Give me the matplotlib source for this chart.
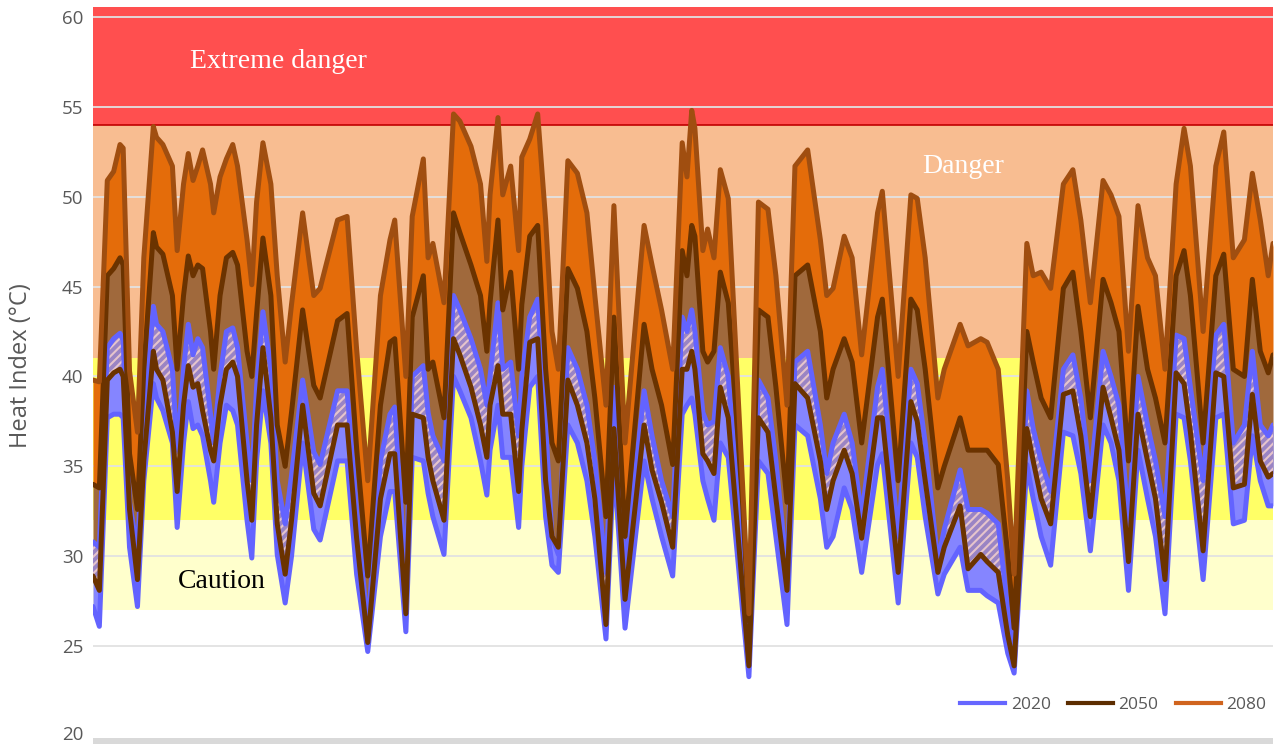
import numpy as np
import matplotlib
matplotlib.use("Agg")
import matplotlib.pyplot as plt
import matplotlib.transforms as mtransforms
from matplotlib.lines import Line2D
from matplotlib.patches import Rectangle

# hour index over the month
hours = [0, 4, 9, 13, 17, 19, 23, 28, 32, 38, 40, 44, 50, 53, 57, 60, 63, 66, 69, 74,
         76, 80, 84, 88, 91, 97, 100, 103, 107, 112, 116, 121, 125, 132, 139, 143, 154, 160, 166, 173,
         181, 187, 190, 197, 201, 208, 211, 214, 221, 227, 231, 238, 244, 248, 250, 255, 258, 263, 268, 270,
         275, 280, 285, 289, 293, 299, 305, 311, 316, 323, 328, 335, 347, 352, 358, 365, 371, 374, 377, 379,
         384, 387, 391, 395, 400, 409, 413, 419, 425, 430, 437, 442, 450, 458, 462, 466, 473, 478, 484, 494,
         497, 507, 515, 519, 524, 532, 536, 546, 551, 559, 563, 570, 576, 580, 588, 592, 597, 603, 611, 617,
         622, 628, 636, 641, 646, 652, 658, 664, 669, 675, 682, 687, 691, 699, 707, 712, 718, 725, 730, 735,
         740, 743]

# upper bound 2080
hi_2080 = [39.8, 39.7, 50.9, 51.4, 52.9, 52.7, 40.3, 36.9, 46.6, 53.9, 53.3, 52.9, 51.7, 47.0, 50.7, 52.4, 50.9, 51.7, 52.6, 50.7,
           49.1, 51.1, 52.1, 52.9, 51.7, 47.6, 45.1, 49.7, 53.0, 50.7, 45.6, 40.8, 44.0, 49.1, 44.5, 44.9, 48.7, 48.9, 41.5, 34.2,
           44.5, 47.6, 48.7, 40.0, 48.9, 52.1, 46.6, 47.4, 44.1, 54.6, 54.2, 52.8, 50.7, 46.4, 50.1, 54.4, 50.1, 51.7, 47.0, 52.2,
           53.2, 54.6, 48.7, 42.5, 40.4, 52.0, 51.3, 49.1, 44.5, 38.4, 49.5, 36.3, 48.4, 46.2, 43.7, 40.4, 53.0, 51.1, 54.8, 53.8,
           47.0, 48.2, 46.6, 51.5, 49.9, 34.0, 26.8, 49.7, 49.3, 45.6, 38.4, 51.7, 52.6, 47.6, 44.5, 44.9, 47.8, 46.6, 41.2, 49.1,
           50.3, 40.0, 50.1, 49.9, 46.6, 38.8, 40.4, 42.9, 41.7, 42.1, 41.9, 40.4, 34.2, 29.0, 47.4, 45.6, 45.8, 44.9, 50.7, 51.5,
           48.7, 44.1, 50.9, 50.1, 48.9, 41.4, 49.5, 46.6, 45.6, 40.4, 50.7, 53.8, 51.7, 42.5, 51.7, 53.6, 46.6, 47.6, 51.3, 48.7,
           45.6, 47.4]

# upper and lower bound 2050
hi_2050 = [34.0, 33.8, 45.6, 46.0, 46.6, 46.2, 35.7, 32.6, 40.4, 48.0, 47.2, 46.8, 44.5, 40.4, 44.5, 46.7, 45.6, 46.2, 46.0, 42.5,
           40.4, 44.5, 46.6, 46.9, 46.2, 41.4, 40.0, 43.5, 47.7, 44.5, 37.3, 35.0, 38.0, 43.7, 39.5, 38.8, 43.1, 43.5, 36.0, 28.9,
           38.4, 41.9, 42.1, 33.0, 43.3, 45.6, 40.4, 40.8, 37.7, 49.1, 48.0, 46.2, 44.5, 41.4, 44.1, 48.7, 43.7, 45.8, 40.4, 44.0,
           47.8, 48.4, 40.4, 36.3, 35.3, 46.0, 44.9, 42.5, 38.8, 32.2, 43.3, 31.1, 42.9, 40.4, 38.4, 35.1, 47.0, 45.6, 48.4, 47.8,
           41.4, 40.8, 41.4, 45.8, 44.1, 33.0, 26.4, 43.7, 43.3, 39.4, 33.0, 45.6, 46.2, 42.5, 38.8, 40.4, 42.1, 40.8, 36.3, 43.3,
           44.3, 34.2, 44.3, 43.7, 40.4, 33.8, 35.0, 37.7, 35.9, 35.9, 35.9, 35.1, 30.1, 26.0, 42.5, 40.8, 38.8, 37.7, 44.9, 45.8,
           42.5, 37.7, 45.4, 44.1, 42.5, 35.3, 43.9, 40.4, 38.8, 36.3, 45.6, 47.0, 44.5, 36.3, 45.6, 46.8, 40.4, 40.0, 45.4, 41.4,
           40.2, 41.2]
lo_2050 = [28.9, 28.1, 39.8, 40.2, 40.4, 40.0, 32.6, 28.7, 35.3, 41.4, 40.4, 39.8, 36.9, 33.6, 38.4, 40.6, 39.4, 39.6, 38.1, 35.9,
           35.3, 38.4, 40.4, 40.8, 40.0, 34.2, 32.0, 37.3, 41.6, 37.7, 31.8, 29.0, 32.0, 38.4, 33.5, 32.8, 37.3, 37.3, 31.0, 25.2,
           33.2, 35.7, 35.7, 26.8, 37.9, 37.7, 35.5, 34.2, 32.0, 42.1, 41.2, 39.4, 37.3, 35.5, 38.4, 40.6, 37.9, 37.9, 33.6, 37.0,
           41.9, 42.1, 34.2, 31.1, 30.5, 39.8, 38.4, 36.3, 33.2, 26.2, 37.1, 27.6, 37.3, 34.8, 33.0, 30.5, 40.4, 40.4, 41.4, 40.4,
           35.7, 35.3, 34.6, 39.4, 37.7, 28.1, 23.9, 37.7, 36.9, 33.2, 28.1, 39.6, 38.8, 35.3, 32.6, 34.2, 35.9, 34.6, 31.0, 37.7,
           37.7, 29.1, 38.6, 37.5, 34.2, 29.1, 30.5, 32.8, 29.3, 30.1, 29.7, 29.1, 25.6, 23.9, 37.1, 35.3, 33.2, 31.8, 39.0, 39.2,
           36.7, 32.2, 39.4, 37.7, 35.9, 29.7, 37.9, 35.3, 33.2, 28.7, 40.2, 39.6, 36.9, 30.3, 40.2, 40.0, 33.8, 34.0, 39.0, 35.3,
           34.4, 34.6]

# upper and lower bound 2020
hi_2020 = [30.8, 30.5, 41.6, 42.1, 42.4, 42.0, 33.0, 30.3, 37.3, 43.9, 42.9, 42.5, 40.4, 35.9, 40.4, 42.9, 41.2, 42.1, 41.6, 37.9,
           36.3, 40.0, 42.5, 42.7, 41.6, 36.3, 34.2, 39.4, 43.6, 40.4, 34.2, 31.8, 34.5, 39.8, 35.8, 35.1, 39.2, 39.2, 32.5, 26.0,
           35.3, 37.9, 38.3, 28.5, 40.0, 40.6, 38.0, 36.7, 35.3, 44.5, 43.7, 42.1, 40.4, 38.4, 40.0, 44.1, 40.4, 40.8, 36.7, 40.0,
           43.3, 44.3, 37.3, 31.1, 30.1, 41.6, 40.4, 38.4, 35.3, 29.1, 39.4, 29.1, 39.2, 36.7, 34.2, 32.2, 43.3, 42.5, 43.7, 42.5,
           38.0, 37.3, 37.5, 41.6, 40.0, 30.1, 24.3, 39.8, 38.8, 35.3, 29.1, 40.8, 41.4, 37.3, 34.6, 36.3, 37.9, 36.3, 32.2, 39.4,
           40.4, 31.1, 40.4, 39.6, 36.3, 29.7, 31.5, 34.8, 32.6, 32.6, 32.4, 31.8, 27.0, 24.3, 39.2, 37.1, 35.3, 33.6, 40.4, 41.2,
           38.8, 34.2, 41.4, 40.0, 38.4, 31.8, 40.0, 37.3, 35.3, 32.2, 42.3, 42.1, 39.4, 34.2, 42.3, 42.9, 36.3, 37.3, 41.4, 37.3,
           36.7, 37.3]
lo_2020 = [27.2, 26.1, 37.7, 37.9, 37.9, 37.7, 30.5, 27.2, 34.2, 39.6, 38.8, 38.1, 36.3, 31.6, 36.3, 38.6, 37.1, 37.3, 36.7, 34.2,
           33.0, 36.3, 38.4, 38.1, 37.3, 32.0, 29.9, 35.3, 39.2, 36.3, 30.1, 27.4, 30.0, 36.3, 31.5, 30.9, 35.3, 35.3, 29.0, 24.7,
           31.1, 33.6, 33.6, 25.8, 35.5, 35.3, 33.5, 32.2, 30.1, 40.0, 39.2, 37.7, 35.3, 33.4, 35.9, 38.4, 35.5, 35.5, 31.6, 35.0,
           39.4, 40.0, 32.2, 29.5, 29.1, 37.3, 36.3, 34.2, 31.1, 25.4, 35.3, 26.0, 35.3, 33.2, 31.1, 28.9, 37.9, 38.4, 38.8, 37.9,
           34.2, 33.2, 32.0, 36.3, 35.5, 27.0, 23.3, 35.3, 34.6, 31.1, 26.2, 37.3, 36.7, 33.2, 30.5, 31.1, 33.8, 32.6, 29.1, 35.1,
           35.7, 27.4, 36.3, 35.5, 32.2, 27.9, 29.0, 30.5, 28.1, 28.1, 27.8, 27.4, 24.6, 23.5, 35.1, 33.2, 31.1, 29.5, 36.9, 36.7,
           34.6, 30.3, 37.3, 36.3, 34.2, 28.1, 35.9, 33.2, 31.1, 26.8, 37.9, 37.7, 35.3, 28.7, 37.7, 37.9, 31.8, 32.0, 36.7, 34.2,
           32.8, 32.8]

# heat index categories (lower, upper, colour)
zones = [(27, 32, '#FFFFCC'), (32, 41, '#FFFF66'), (41, 54, '#F8BD91'), (54, 61, '#FF4F4F')]

x = np.array(hours)
hi80 = np.array(hi_2080)
hi50, lo50 = np.array(hi_2050), np.array(lo_2050)
hi20, lo20 = np.array(hi_2020), np.array(lo_2020)

fig = plt.figure(figsize=(12.86, 7.44), dpi=100)
ax = fig.add_axes([93/1286, 8/744, 1180/1286, 729/744])

for lo, hi, c in zones:
    ax.axhspan(lo, hi, color=c, lw=0, zorder=0)
ax.axhline(54, color='#C00000', lw=1.2, zorder=1.6)
for v in range(25, 61, 5):
    ax.axhline(v, color='#E2E2E2', lw=1.3, zorder=1.5)

# bands
ax.fill_between(x, hi50, hi80, color='#E46C0A', lw=0, zorder=2)
ax.fill_between(x, lo50, hi50, color='#A0693C', lw=0, zorder=2.1)
ax.fill_between(x, lo20, hi20, color='#8585FF', lw=0, zorder=2.2)
plt.rcParams['hatch.linewidth'] = 1.5
ax.fill_between(x, lo50, hi20, where=hi20 > lo50, interpolate=True,
                facecolor='#9A84C4', edgecolor='#E6C4CC', hatch='////', lw=0, zorder=2.3)

# lines
style = dict(lw=3.6, solid_joinstyle='round', solid_capstyle='round')
ax.plot(x, hi20, color='#6363FF', zorder=3, **style)
ax.plot(x, lo20, color='#6363FF', zorder=3, **style)
ax.plot(x, hi50, color='#6B3300', zorder=3.1, **style)
ax.plot(x, lo50, color='#6B3300', zorder=3.1, **style)
ax.plot(x, hi80, color='#A04E10', zorder=3.2, **style)

ax.set_xlim(0, 743)
ax.set_ylim(20, 60.55)
ax.set_yticks(range(20, 61, 5))
ax.set_xticks([])
ax.tick_params(axis='y', length=0, pad=7, labelsize=13.5, labelcolor='#595959')
for t in ax.get_yticklabels():
    t.set_family('Open Sans')
# lift the bottom "20" a touch so it stays inside the image
lowest = ax.get_yticklabels()[0]
lowest.set_transform(lowest.get_transform() +
                     mtransforms.ScaledTranslation(0, 3/100, fig.dpi_scale_trans))
for s in ax.spines.values():
    s.set_visible(False)

fig.text(21/1286, 1 - 366/744, 'Heat Index (°C)', rotation=90, ha='center', va='center',
         fontsize=17, color='#595959', family='Open Sans')

ax.text(117, 57.5, 'Extreme danger', color='white', fontsize=20, family='Liberation Serif',
        ha='center', va='center', zorder=5)
ax.text(548, 51.7, 'Danger', color='white', fontsize=20, family='Liberation Serif',
        ha='center', va='center', zorder=5)
ax.text(81, 28.6, 'Caution', color='black', fontsize=20, family='Liberation Serif',
        ha='center', va='center', zorder=5)

handles = [Line2D([], [], color='#6666FF', lw=3),
           Line2D([], [], color='#5C2D00', lw=3),
           Line2D([], [], color='#D0641E', lw=3)]
leg = ax.legend(handles, ['2020', '2050', '2080'], ncol=3, loc='center right',
                bbox_to_anchor=(1.0, 31/729), frameon=False, handlelength=2.6,
                handletextpad=0.3, columnspacing=1.0, borderaxespad=0,
                prop={'family': 'Open Sans', 'size': 12.5})
for t in leg.get_texts():
    t.set_color('#595959')

fig.patches.append(Rectangle((93/1286, 0), 1180/1286, 6/744, transform=fig.transFigure,
                             color='#D9D9D9', lw=0))

fig.savefig('out.png', dpi=100)
